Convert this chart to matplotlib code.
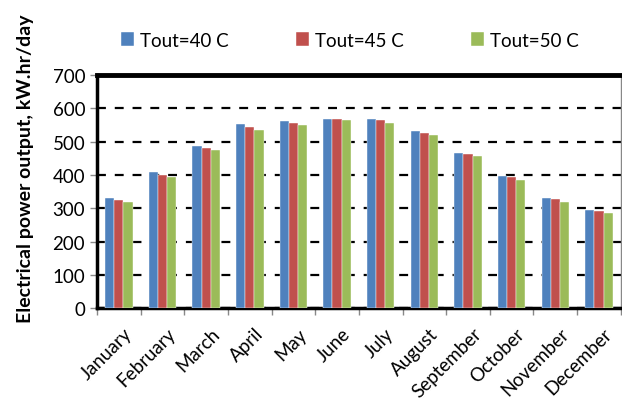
import numpy as np
import matplotlib.pyplot as plt

plt.rcParams['font.family'] = ['Lato', 'DejaVu Sans']

months = ["January", "February", "March", "April", "May", "June", "July",
          "August", "September", "October", "November", "December"]
tout40 = [332, 409, 488, 552, 563, 569, 569, 532, 467, 396, 331, 296]
tout45 = [326, 401, 481, 543, 555, 569, 565, 527, 463, 394, 328, 292]
tout50 = [319, 395, 474, 535, 550, 566, 556, 519, 457, 384, 318, 287]
labels = ["Tout=40 C", "Tout=45 C", "Tout=50 C"]
colors = ["#4f81bd", "#c0504d", "#9bbb59"]

fig = plt.figure(figsize=(6.22, 4.02), dpi=100)
ax = fig.add_axes([0.156, 0.231, 0.842, 0.58])

x = np.arange(len(months))
w = 0.21
for i, (vals, lab, col) in enumerate(zip([tout40, tout45, tout50], labels, colors)):
    ax.bar(x + (i - 1) * w, vals, w, color=col, label=lab, zorder=3,
           edgecolor='white', linewidth=0.3)

ax.set_xlim(-0.5, len(months) - 0.5)
ax.set_ylim(0, 700)
ax.set_yticks(range(0, 701, 100))
ax.set_xticks(np.arange(len(months) + 1) - 0.5, minor=False)
ax.set_xticklabels([])
ax.set_xticks(x + 0.1, minor=True)
ax.set_xticklabels(months, minor=True, rotation=45, ha='right',
                   rotation_mode='anchor', fontsize=13.5)
ax.tick_params(axis='x', which='minor', length=0, pad=12)
ax.tick_params(axis='x', which='major', length=5, color='#888888', width=1)
ax.tick_params(axis='y', length=5, color='#888888', width=1, labelsize=13.5)

ax.yaxis.grid(True, linestyle=(0, (4, 4)), color='black', linewidth=1.6, zorder=0)
ax.set_axisbelow(True)

ax.spines['top'].set_linewidth(3.5)
ax.spines['left'].set_linewidth(2.5)
ax.spines['bottom'].set_linewidth(2.5)
ax.spines['right'].set_linewidth(1)
ax.spines['right'].set_color('#888888')

ax.set_ylabel("Electrical power output, kW.hr/day", fontsize=14,
              fontweight='bold')
ax.yaxis.set_label_coords(-0.12, 0.60)

fig.legend(loc='center left', bbox_to_anchor=(0.168, 0.898), ncol=3,
           frameon=False, fontsize=13.5, handlelength=0.7, handleheight=0.7,
           columnspacing=3.6, handletextpad=0.3)

fig.savefig("out.png", dpi=100)
